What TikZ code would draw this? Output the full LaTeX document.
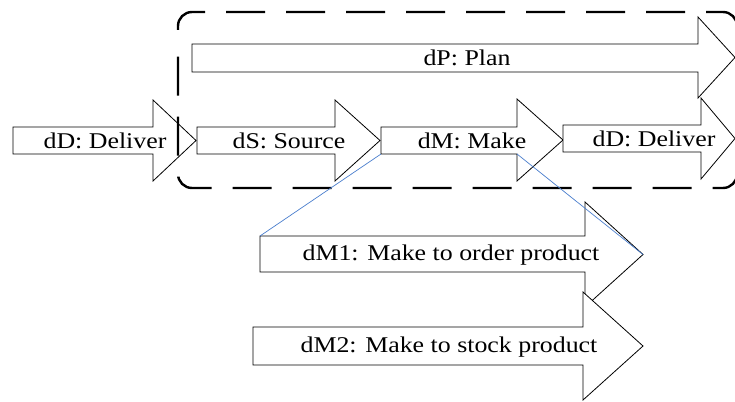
\documentclass[tikz,border=0pt]{standalone}
\usepackage{fontspec}
\setmainfont{Liberation Serif}
\usepackage{xcolor}
\usetikzlibrary{positioning,calc}
\definecolor{linkblue}{RGB}{74,126,205}
\newcommand{\wide}[1]{\scalebox{1.15}[1]{#1}}

\begin{document}
\begin{tikzpicture}[x=1pt, y=-1pt,
    flow/.style={draw=black, fill=white, line width=0.8pt, line join=miter},
    lbl/.style={inner sep=0pt, font=\fontsize{22.5}{27}\selectfont},
    scopebox/.style={draw=black, line width=2.4pt, dash pattern=on 39pt off 21pt,
                     dash phase=44pt, rounded corners=14pt},
    link/.style={draw=linkblue, line width=0.7pt}
]
\useasboundingbox (0,0) rectangle (735,401);

% Process arrows
\draw[flow] (13,127) -- (153,127) -- (153,100) -- (196,140.5) -- (153,181) -- (153,154) -- (13,154) -- cycle;
\draw[flow] (197,127) -- (335,127) -- (335,100) -- (380,140.5) -- (335,181) -- (335,154) -- (197,154) -- cycle;
\draw[flow] (381,127) -- (517,127) -- (517,99) -- (563,140) -- (517,181) -- (517,154)
    coordinate (dM-se) -- (381,154) coordinate (dM-sw) -- cycle;
\draw[flow] (563,125) -- (701,125) -- (701,98) -- (735,138.5) -- (701,179) -- (701,152) -- (563,152) -- cycle;
\draw[flow] (192,44) -- (698,44) -- (698,17) -- (735,57.5) -- (698,98) -- (698,72) -- (192,72) -- cycle;

% Make sub-processes
\draw[flow] (260,236) coordinate (dM1-nw) -- (585,236) -- (585,202) -- (643,254.5) coordinate (dM1-tip)
    -- (585,307) -- (585,272) -- (260,272) -- cycle;
\draw[flow] (253,327) -- (583,327) -- (583,292) -- (643,346) -- (583,400) -- (583,365) -- (253,365) -- cycle;

% Scope
\draw[scopebox] (178,60) -- (178,12) -- (737,12) -- (737,188) -- (178,188) -- cycle;

% Connections
\draw[link] (dM-sw) -- (dM1-nw);
\draw[link] (dM-se) -- (dM1-tip);

% Labels
\node[lbl] (dDa) at (105,140.5) {\wide{dD: Deliver}};
\node[lbl] (dS) at (289,140.5) {\wide{dS: Source}};
\node[lbl] (dM) at (472,140.5) {\wide{dM: Make}};
\node[lbl] (dDb) at (654,138.5) {\wide{dD: Deliver}};
\node[lbl] (dP) at (467,58) {\wide{dP: Plan}};
\node[lbl] (dM1) at (451,255) {\wide{dM1: Make to order product}};
\node[lbl] (dM2) at (449,347) {\wide{dM2: Make to stock product}};

\end{tikzpicture}
\end{document}
